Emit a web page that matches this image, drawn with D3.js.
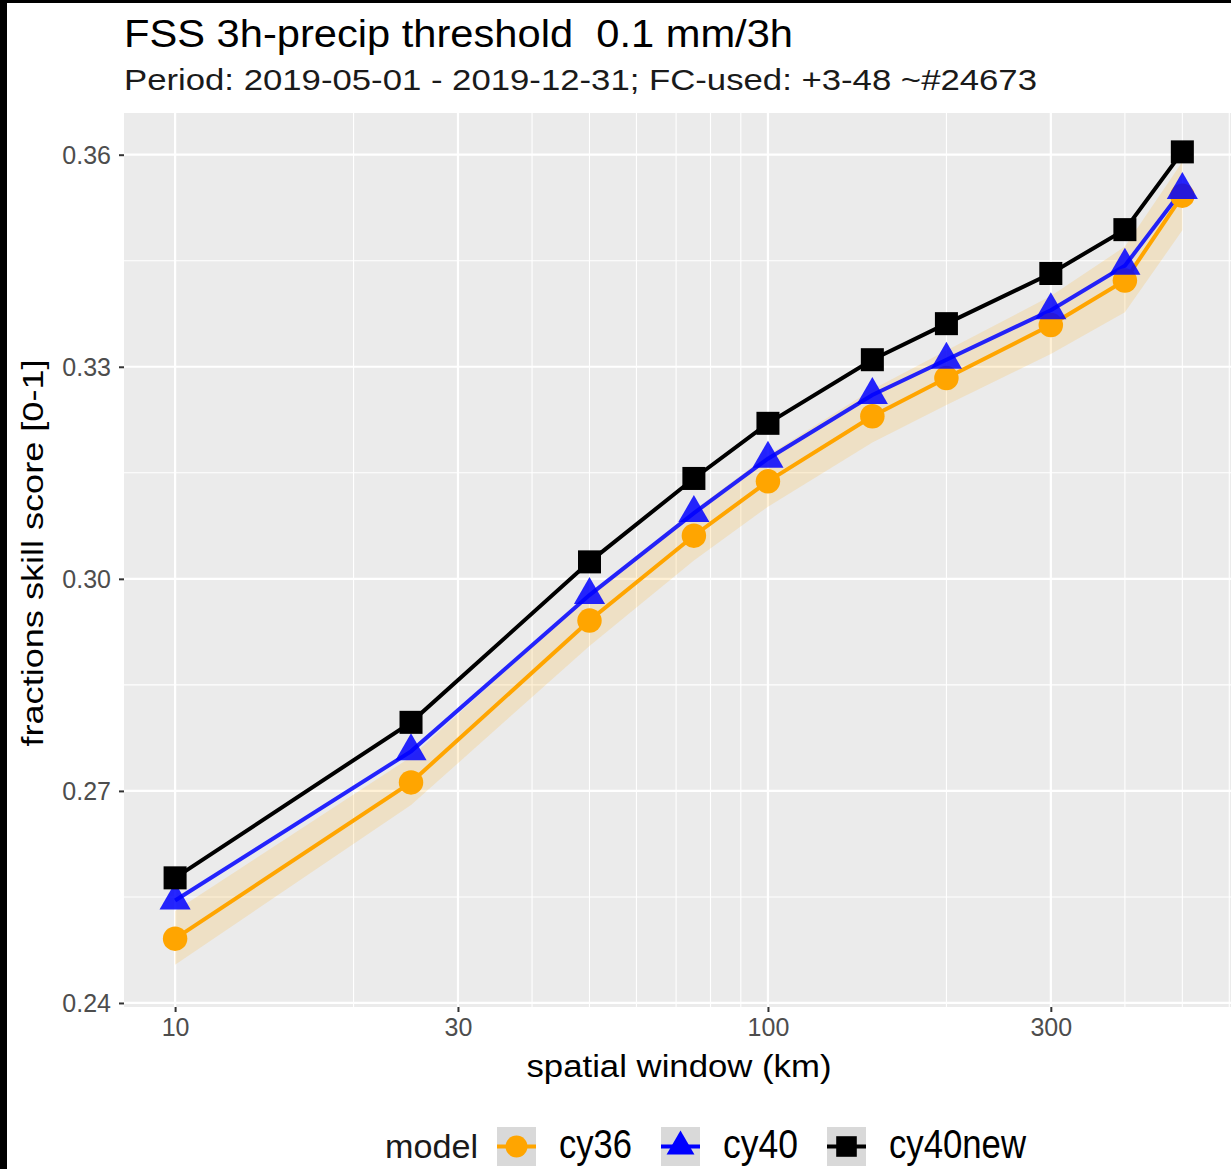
<!DOCTYPE html>
<html>
<head>
<meta charset="utf-8">
<script src="https://cdn.jsdelivr.net/npm/d3@7"></script>
<style>
  body { margin: 0; background: #fff; }
  text { font-family: "Liberation Sans", Arial, sans-serif; }
</style>
</head>
<body>
<div id="chart"></div>
<script>
// spatial window (km) on a log axis
const windows = [10, 25, 50, 75, 100, 150, 200, 300, 400, 500];
const cy36 = [0.2491, 0.2712, 0.2941, 0.3061, 0.3138, 0.3230, 0.3284, 0.3359, 0.3422, 0.3542];
const cy36Lo = [0.2454, 0.2680, 0.2905, 0.3026, 0.3102, 0.3193, 0.3246, 0.3318, 0.3377, 0.3493];
const cy36Hi = [0.2530, 0.2748, 0.2978, 0.3097, 0.3175, 0.3268, 0.3323, 0.3400, 0.3470, 0.3590];
const cy40 = [0.2545, 0.2756, 0.2977, 0.3093, 0.3170, 0.3260, 0.3310, 0.3380, 0.3443, 0.3550];
const cy40new = [0.2577, 0.2797, 0.3024, 0.3142, 0.3220, 0.3310, 0.3361, 0.3432, 0.3494, 0.3604];

const xTicks = [10, 30, 100, 300];
const xMinor = [20, 40, 50, 60, 70, 80, 90, 200, 400, 500, 600];
const yTicks = [0.24, 0.27, 0.30, 0.33, 0.36];
const yMinor = [0.255, 0.285, 0.315, 0.345];
const modelNames = ["cy36", "cy40", "cy40new"];

const w = 1231, h = 1169;
const panel = {left: 124, right: 1231, top: 113, bottom: 1007};

const series = [
  {name: modelNames[0], values: cy36, color: "#FFA500", shape: d3.symbolCircle, size: 470, lab: 73},
  {name: modelNames[1], values: cy40, color: "#0000FF", shape: d3.symbolTriangle, size: 420, lab: 75},
  {name: modelNames[2], values: cy40new, color: "#000000", shape: d3.symbolSquare, size: 530, lab: 137}
];

const xScale = d3.scaleLog().domain([8.2, 604]).range([panel.left, panel.right]);
const yScale = d3.scaleLinear().domain([0.23943, 0.3659]).range([panel.bottom, panel.top]);

const svg = d3.select("#chart").append("svg")
  .attr("width", w).attr("height", h);

svg.append("rect").attr("width", w).attr("height", h).attr("fill", "#fff");
// black frame edges of the original picture
svg.append("rect").attr("x", 0).attr("y", 0).attr("width", 7).attr("height", h).attr("fill", "#000");
svg.append("rect").attr("x", 0).attr("y", 0).attr("width", w).attr("height", 3).attr("fill", "#000");

// panel
svg.append("rect")
  .attr("x", panel.left).attr("y", panel.top)
  .attr("width", panel.right - panel.left).attr("height", panel.bottom - panel.top)
  .attr("fill", "#EBEBEB");

const grid = svg.append("g");
grid.selectAll(".ymin").data(yMinor).enter().append("line")
  .attr("x1", panel.left).attr("x2", panel.right)
  .attr("y1", d => yScale(d)).attr("y2", d => yScale(d))
  .attr("stroke", "#fff").attr("stroke-width", 1.1);
grid.selectAll(".xmin").data(xMinor).enter().append("line")
  .attr("y1", panel.top).attr("y2", panel.bottom)
  .attr("x1", d => xScale(d)).attr("x2", d => xScale(d))
  .attr("stroke", "#fff").attr("stroke-width", 1.1);
grid.selectAll(".ymaj").data(yTicks).enter().append("line")
  .attr("x1", panel.left).attr("x2", panel.right)
  .attr("y1", d => yScale(d)).attr("y2", d => yScale(d))
  .attr("stroke", "#fff").attr("stroke-width", 2.2);
grid.selectAll(".xmaj").data(xTicks).enter().append("line")
  .attr("y1", panel.top).attr("y2", panel.bottom)
  .attr("x1", d => xScale(d)).attr("x2", d => xScale(d))
  .attr("stroke", "#fff").attr("stroke-width", 2.2);

// ribbon for cy36
const area = d3.area()
  .x((d, i) => xScale(windows[i]))
  .y0((d, i) => yScale(cy36Lo[i]))
  .y1((d, i) => yScale(cy36Hi[i]));
svg.append("path").datum(cy36)
  .attr("d", area)
  .attr("fill", "#FFA500").attr("fill-opacity", 0.16);

const line = d3.line().x((d, i) => xScale(windows[i])).y(d => yScale(d));
series.forEach(s => {
  svg.append("path").datum(s.values)
    .attr("d", line)
    .attr("fill", "none")
    .attr("stroke", s.color).attr("stroke-opacity", s.name === "cy40" ? 0.85 : 1)
    .attr("stroke-width", 4);
});
series.forEach(s => {
  svg.selectAll(null).data(s.values).enter().append("path")
    .attr("d", d3.symbol().type(s.shape).size(s.size))
    .attr("transform", (d, i) => "translate(" + xScale(windows[i]) + "," + yScale(d) + ")")
    .attr("fill", s.color).attr("fill-opacity", s.name === "cy40" ? 0.85 : 1);
});

// axes
const yAxis = d3.axisLeft(yScale).tickValues(yTicks).tickFormat(d3.format(".2f"))
  .tickSize(5).tickPadding(8);
const gy = svg.append("g").attr("transform", "translate(" + panel.left + ",0)").call(yAxis);
gy.select(".domain").remove();
gy.selectAll("line").attr("stroke", "#333").attr("stroke-width", 2);
gy.selectAll("text").attr("fill", "#4D4D4D").style("font-size", "25px")
  .style("font-family", "Liberation Sans, Arial, sans-serif").attr("dy", "0.36em");

const xAxis = d3.axisBottom(xScale).tickValues(xTicks).tickFormat(d3.format("d"))
  .tickSize(5).tickPadding(6);
const gx = svg.append("g").attr("transform", "translate(0," + panel.bottom + ")").call(xAxis);
gx.select(".domain").remove();
gx.selectAll("line").attr("stroke", "#333").attr("stroke-width", 2);
gx.selectAll("text").attr("fill", "#4D4D4D").style("font-size", "25px")
  .style("font-family", "Liberation Sans, Arial, sans-serif").attr("dy", "0.71em");

// titles
svg.append("text").attr("x", 124).attr("y", 47)
  .attr("font-size", 38).attr("fill", "#000")
  .attr("textLength", 669).attr("lengthAdjust", "spacingAndGlyphs")
  .text("FSS 3h-precip threshold  0.1 mm/3h").style("white-space", "pre");
svg.append("text").attr("x", 124).attr("y", 90)
  .attr("font-size", 29).attr("fill", "#1A1A1A")
  .attr("textLength", 913).attr("lengthAdjust", "spacingAndGlyphs")
  .text("Period: 2019-05-01 - 2019-12-31; FC-used: +3-48 ~#24673");

svg.append("text").attr("x", 679).attr("y", 1077)
  .attr("text-anchor", "middle").attr("font-size", 31).attr("fill", "#000")
  .attr("textLength", 305).attr("lengthAdjust", "spacingAndGlyphs")
  .text("spatial window (km)");

svg.append("text")
  .attr("transform", "translate(43,553) rotate(-90)")
  .attr("text-anchor", "middle").attr("font-size", 30).attr("fill", "#000")
  .attr("textLength", 387).attr("lengthAdjust", "spacingAndGlyphs")
  .text("fractions skill score [0-1]");

// legend
const legend = svg.append("g");
const legY = 1158;
const keySize = 39;
legend.append("text").attr("x", 385).attr("y", legY)
  .attr("font-size", 34).attr("fill", "#1A1A1A")
  .attr("textLength", 93).attr("lengthAdjust", "spacingAndGlyphs")
  .text("model");
let lx = 385 + 93 + 19;
series.forEach(s => {
  const k = legend.append("g").attr("transform", "translate(" + lx + "," + 1127 + ")");
  k.append("rect").attr("width", keySize).attr("height", keySize).attr("fill", "#D9D9D9");
  k.append("line").attr("x1", 0).attr("x2", keySize)
    .attr("y1", keySize / 2).attr("y2", keySize / 2)
    .attr("stroke", s.color).attr("stroke-width", 4);
  k.append("path").attr("d", d3.symbol().type(s.shape).size(s.size * 0.8))
    .attr("transform", "translate(" + keySize / 2 + "," + keySize / 2 + ")")
    .attr("fill", s.color);
  legend.append("text").attr("x", lx + keySize + 23).attr("y", legY)
    .attr("font-size", 40).attr("fill", "#000")
    .attr("textLength", s.lab).attr("lengthAdjust", "spacingAndGlyphs")
    .text(s.name);
  lx += keySize + 23 + s.lab + 29;
});
</script>
</body>
</html>
